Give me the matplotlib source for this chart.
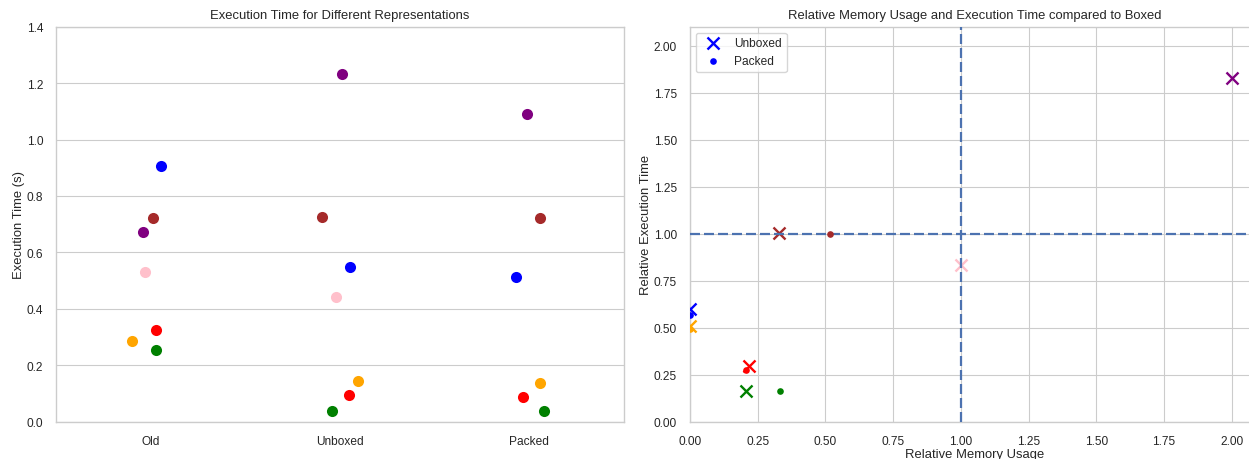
import numpy as np
import matplotlib
matplotlib.use("Agg")
import matplotlib.pyplot as plt
import seaborn as sns

# ---------------- data ----------------
categories = ["Old", "Unboxed", "Packed"]
colors = ["blue", "brown", "purple", "pink", "red", "orange", "green"]

old_time = [0.907, 0.720, 0.673, 0.529, 0.323, 0.284, 0.255]
unboxed_time = [0.547, 0.724, 1.232, 0.442, 0.094, 0.145, 0.039]
packed_time = [0.511, 0.723, 1.089, np.nan, 0.086, 0.138, 0.039]

# strip-plot jitter (category units)
old_jitter = [0.053, 0.009, -0.039, -0.030, 0.026, -0.099, 0.025]
unboxed_jitter = [0.054, -0.097, 0.009, -0.023, 0.046, 0.097, -0.042]
packed_jitter = [-0.068, 0.060, -0.010, 0.0, -0.033, 0.059, 0.078]

# relative to Boxed (Old)
unboxed_rel_mem = [0.0, 0.33, 2.0, 1.0, 0.217, 0.0, 0.208]
unboxed_rel_time = [0.60, 1.005, 1.827, 0.833, 0.295, 0.51, 0.162]
packed_rel_mem = [0.0, 0.516, np.nan, np.nan, 0.205, 0.0, 0.332]
packed_rel_time = [0.565, 1.0, np.nan, np.nan, 0.275, 0.49, 0.162]

# ---------------- style ----------------
sns.set_theme(style="whitegrid")
plt.rcParams["font.family"] = ["Liberation Sans", "DejaVu Sans"]
TITLE_FS = 9.4
LABEL_FS = 9.4
TICK_FS = 8.6
plt.rcParams["axes.edgecolor"] = "0.8"
plt.rcParams["grid.color"] = "0.8"
plt.rcParams["axes.linewidth"] = 1.0
plt.rcParams["grid.linewidth"] = 0.8
plt.rcParams["text.color"] = "0.15"
plt.rcParams["axes.labelcolor"] = "0.15"
plt.rcParams["xtick.color"] = "0.15"
plt.rcParams["ytick.color"] = "0.15"

fig = plt.figure(figsize=(12.49, 4.60), dpi=100)
ax1 = fig.add_axes([0.04508, 0.08152, 0.45428, 0.85826])
ax2 = fig.add_axes([0.55244, 0.08152, 0.45540, 0.85826])

# ---------------- left: strip plot ----------------
series = [old_time, unboxed_time, packed_time]
jitters = [old_jitter, unboxed_jitter, packed_jitter]
for ci, (vals, jit) in enumerate(zip(series, jitters)):
    for v, j, c in zip(vals, jit, colors):
        if np.isnan(v):
            continue
        ax1.scatter(ci + j, v, s=64, color=c, linewidths=0, zorder=3)

ax1.set_xlim(-0.5, len(categories) - 0.5)
ax1.set_xticks(range(len(categories)))
ax1.set_xticklabels(categories)
ax1.set_ylim(0, 1.4)
ax1.set_yticks(np.arange(0, 1.41, 0.2))
ax1.set_yticklabels([f"{t:.1f}" for t in np.arange(0, 1.41, 0.2)])
ax1.xaxis.grid(False)
ax1.set_ylabel("Execution Time (s)", fontsize=LABEL_FS, labelpad=1.5)
ax1.set_title("Execution Time for Different Representations", fontsize=TITLE_FS)
ax1.tick_params(labelsize=TICK_FS)

# ---------------- right: relative scatter ----------------
for i, c in enumerate(colors):
    ax2.scatter(unboxed_rel_mem[i], unboxed_rel_time[i], marker="x", s=75,
                color=c, linewidths=1.7, zorder=3,
                label="Unboxed" if i == 0 else None)
ax2.axhline(1.0, color="#4c72b0", linestyle=(0, (4.5, 1.8)), linewidth=1.6, zorder=4)
ax2.axvline(1.0, color="#4c72b0", linestyle=(0, (4.5, 1.8)), linewidth=1.6, zorder=4)
for i, c in enumerate(colors):
    if np.isnan(packed_rel_mem[i]):
        continue
    ax2.scatter(packed_rel_mem[i], packed_rel_time[i], marker="o", s=23,
                color=c, linewidths=0, zorder=5,
                label="Packed" if i == 0 else None)

ax2.set_xlim(0, 2.1)
ax2.set_ylim(0, 2.1)
ax2.set_xticks(np.arange(0, 2.01, 0.25))
ax2.set_yticks(np.arange(0, 2.01, 0.25))
ax2.set_xlabel("Relative Memory Usage", fontsize=LABEL_FS, labelpad=1)
ax2.set_ylabel("Relative Execution Time", fontsize=LABEL_FS, labelpad=1)
ax2.set_title("Relative Memory Usage and Execution Time compared to Boxed",
              fontsize=TITLE_FS)
ax2.tick_params(labelsize=TICK_FS)
ax2.legend(loc="upper left", fontsize=TICK_FS, frameon=True)

fig.savefig("out.png", dpi=100)
